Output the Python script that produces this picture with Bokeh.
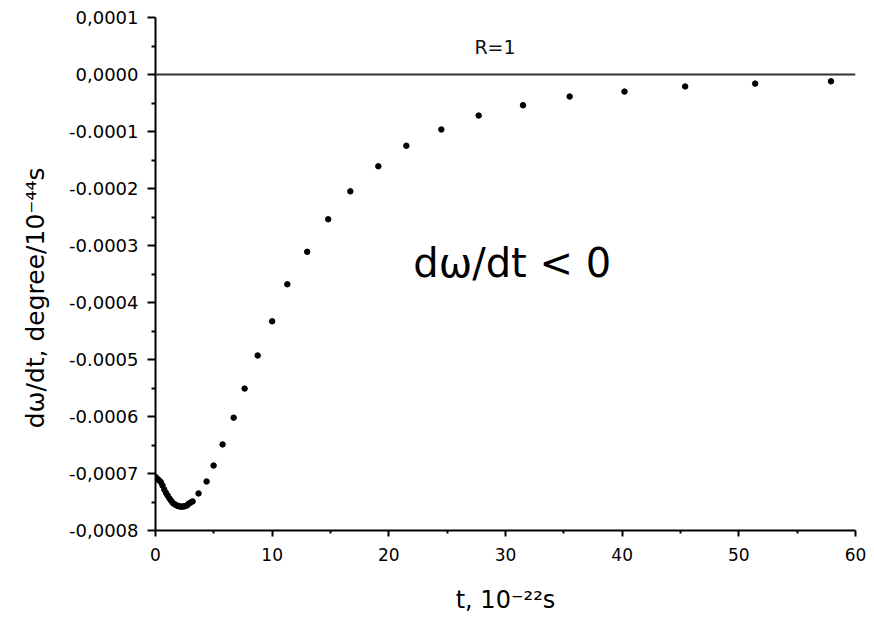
from bokeh.plotting import figure
from bokeh.models import Range1d, Span, Label, FixedTicker
from bokeh.embed import file_html
from bokeh.resources import INLINE

# dense part of the curve near the minimum (t in 1e-22 s, dω/dt in degree/1e-44 s)
t_dense = [0.0, 0.15, 0.3, 0.45, 0.6, 0.75, 0.9, 1.05, 1.2, 1.35, 1.5, 1.65,
           1.8, 1.95, 2.1, 2.25, 2.4, 2.55, 2.7, 2.85, 3.0, 3.18]
w_dense = [-0.000706, -0.000709, -0.000712, -0.000715, -0.000721, -0.000728,
           -0.000734, -0.000739, -0.000744, -0.000748, -0.000752, -0.000754,
           -0.000756, -0.000757, -0.000758, -0.000758, -0.000758, -0.000757,
           -0.000756, -0.000753, -0.000751, -0.000749]

# sparse points
t_sparse = [3.69, 4.38, 4.98, 5.75, 6.70, 7.64, 8.76, 10.0, 11.3, 13.0, 14.8,
            16.7, 19.1, 21.5, 24.5, 27.7, 31.5, 35.5, 40.2, 45.4, 51.4, 57.9]
w_sparse = [-0.000735, -0.000714, -0.000686, -0.000649, -0.000602, -0.000551,
            -0.000493, -0.000433, -0.000368, -0.000311, -0.000254, -0.000205,
            -0.000161, -0.000125, -0.0000965, -0.000072, -0.000054, -0.0000386,
            -0.000030, -0.000021, -0.000016, -0.000012]

y_ticks = [0.0001, 0.0, -0.0001, -0.0002, -0.0003, -0.0004, -0.0005, -0.0006, -0.0007, -0.0008]
y_tick_labels = ["0,0001", "0,0000", "-0.0001", "-0.0002", "-0.0003", "-0,0004",
                 "-0.0005", "-0.0006", "-0,0007", "-0,0008"]
x_ticks = [0, 10, 20, 30, 40, 50, 60]

FONT = "DejaVu Sans"

p = figure(width=874, height=619, x_range=Range1d(0, 60), y_range=Range1d(-0.0008, 0.0001),
           output_backend="svg", toolbar_location=None,
           min_border_left=155, min_border_right=19, min_border_top=17, min_border_bottom=89)
p.xgrid.visible = False
p.ygrid.visible = False
p.outline_line_color = None
p.background_fill_color = "white"
p.border_fill_color = "white"

p.scatter(t_dense + t_sparse, w_dense + w_sparse, size=5.5, marker="circle",
          fill_color="black", line_color="black")

p.add_layout(Span(location=0, dimension="width", line_color="#333333", line_width=2))

p.add_layout(Label(x=29.1, y=0.0000474, text="R=1", text_font=FONT, text_font_size="19px",
                   text_align="center", text_baseline="middle", text_color="#111111"))
p.add_layout(Label(x=22.1, y=-0.00033, text="dω/dt < 0", text_font=FONT, text_font_size="40px",
                   text_align="left", text_baseline="middle", text_color="black"))

# y axis (title padded with no-break spaces so the visible text sits a bit lower, as in the reference)
p.yaxis.ticker = FixedTicker(ticks=y_ticks, minor_ticks=[v - 0.00005 for v in y_ticks[:-1]])
p.yaxis.major_label_overrides = {v: s for v, s in zip(y_ticks, y_tick_labels)}
p.yaxis.axis_label = "dω/dt, degree/10⁻⁴⁴s" + "\u00a0" * 6
p.yaxis.axis_label_text_font = FONT
p.yaxis.axis_label_text_font_size = "25px"
p.yaxis.axis_label_text_font_style = "normal"
p.yaxis.axis_label_standoff = 16
p.yaxis.major_label_text_font = FONT
p.yaxis.major_label_text_font_size = "18px"
p.yaxis.major_label_standoff = 9
p.yaxis.major_tick_out = 8
p.yaxis.major_tick_in = 0
p.yaxis.minor_tick_out = 4
p.yaxis.minor_tick_in = 0
p.yaxis.axis_line_width = 2
p.yaxis.major_tick_line_width = 2
p.yaxis.minor_tick_line_width = 2

# x axis
p.xaxis.ticker = FixedTicker(ticks=x_ticks, minor_ticks=[v + 5 for v in x_ticks[:-1]])
p.xaxis.axis_label = "t, 10⁻²²s"
p.xaxis.axis_label_text_font = FONT
p.xaxis.axis_label_text_font_size = "24px"
p.xaxis.axis_label_text_font_style = "normal"
p.xaxis.axis_label_standoff = 22
p.xaxis.major_label_text_font = FONT
p.xaxis.major_label_text_font_size = "17px"
p.xaxis.major_label_standoff = 11
p.xaxis.major_tick_out = 6
p.xaxis.major_tick_in = 0
p.xaxis.minor_tick_out = 3
p.xaxis.minor_tick_in = 0
p.xaxis.axis_line_width = 2
p.xaxis.major_tick_line_width = 2
p.xaxis.minor_tick_line_width = 2

for ax in (p.xaxis, p.yaxis):
    ax.axis_label_text_color = "black"
    ax.major_label_text_color = "black"
    ax.axis_line_color = "black"
    ax.major_tick_line_color = "black"
    ax.minor_tick_line_color = "black"

open("out.html", "w").write(file_html(p, INLINE))
